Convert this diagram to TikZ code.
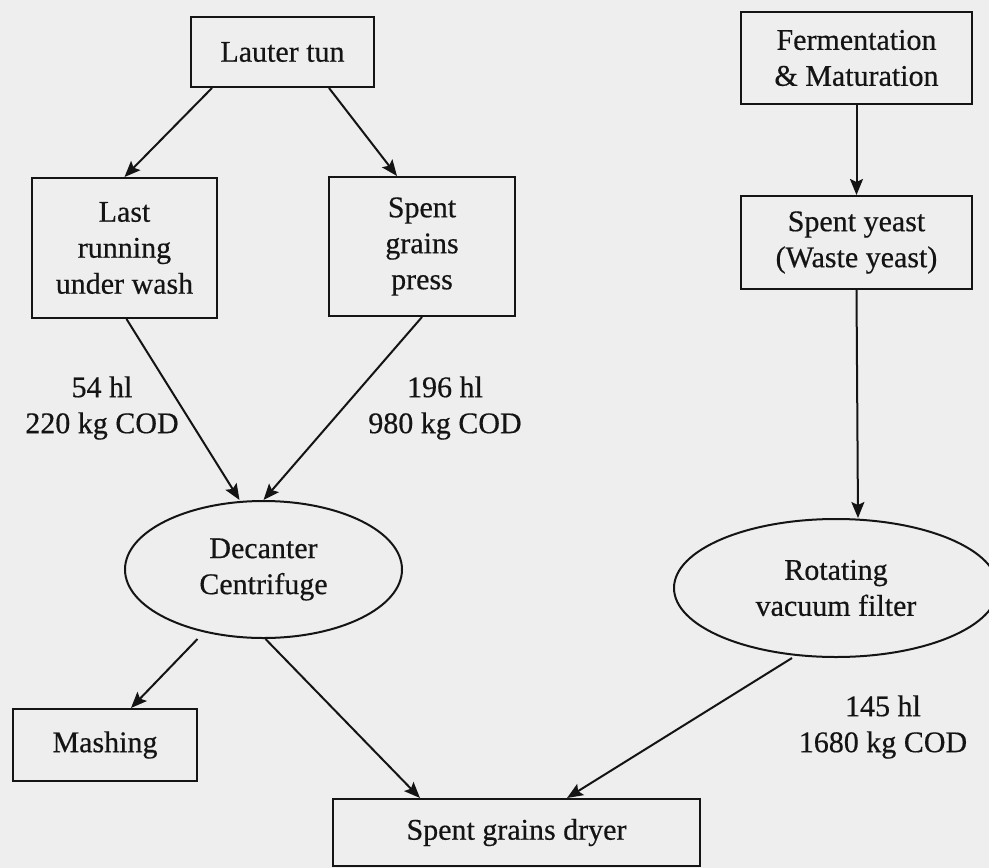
\documentclass[tikz,border=0pt]{standalone}
\usepackage{fontspec}
\setmainfont{Liberation Serif}[FakeBold=0.5]
\usetikzlibrary{shapes.geometric,arrows.meta,calc}
\definecolor{bg}{RGB}{238,238,238}
\definecolor{ink}{RGB}{20,20,20}
\begin{document}
\begin{tikzpicture}[x=1pt,y=-1pt,
  every node/.style={font=\fontsize{30}{36}\selectfont, text=ink, align=center, inner sep=0pt},
  box/.style={draw=ink, line width=2pt, rectangle},
  oval/.style={draw=ink, line width=2pt, ellipse},
  arr/.style={draw=ink, line width=2pt, -{Stealth[length=16pt,width=13pt,inset=3pt]}}]
\useasboundingbox (0,0) rectangle (989,868);
\fill[bg] (0,0) rectangle (989,868);
\clip (0,0) rectangle (989,868);

\node[box, minimum width=183pt, minimum height=70pt] (lt) at (282.5,52) {Lauter tun};
\node[box, minimum width=185pt, minimum height=140pt] (lr) at (124.5,248) {Last\\running\\under wash};
\node[box, minimum width=186pt, minimum height=139pt] (sp) at (422,246.5) {Spent\\grains\\press};
\node[box, minimum width=231pt, minimum height=92pt] (fm) at (856.5,58) {Fermentation\\\& Maturation};
\node[box, minimum width=231pt, minimum height=93pt] (sy) at (856.5,242.5) {Spent yeast\\(Waste yeast)};
\node[oval, minimum width=277pt, minimum height=137pt] (dc) at (263.5,569.5) {Decanter\\Centrifuge};
\node[oval, minimum width=324pt, minimum height=138pt] (rv) at (836,588) {Rotating\\vacuum filter};
\node[box, minimum width=184pt, minimum height=72pt] (ms) at (105,745) {Mashing};
\node[box, minimum width=367pt, minimum height=67pt] (dr) at (516.5,832.5) {Spent grains dryer};

\node (l1) at (102,408) {54 hl\\220 kg COD};
\node (l2) at (445,408) {196 hl\\980 kg COD};
\node (l3) at (883,727) {145 hl\\1680 kg COD};

\draw[arr] ($(lt.south west)+(22,0)$) -- (lr.north);
\draw[arr] ($(lt.south east)+(-46,0)$) -- ($(sp.north)+(-25,0)$);
\draw[arr] ($(lr.south)+(2,0)$) -- ($(dc.north)+(-24,0)$);
\draw[arr] (sp.south) -- (dc.north);
\draw[arr] (fm.south) -- (sy.north);
\draw[arr] (sy.south) -- ($(rv.north)+(22,0)$);
\draw[arr] ($(dc.south)+(-66,0)$) -- ($(ms.north)+(26,0)$);
\draw[arr] ($(dc.south)+(2,0)$) -- ($(dr.north west)+(88,0)$);
\draw[arr] ($(rv.south)+(-44,0)$) -- ($(dr.north west)+(235,0)$);
\end{tikzpicture}
\end{document}
